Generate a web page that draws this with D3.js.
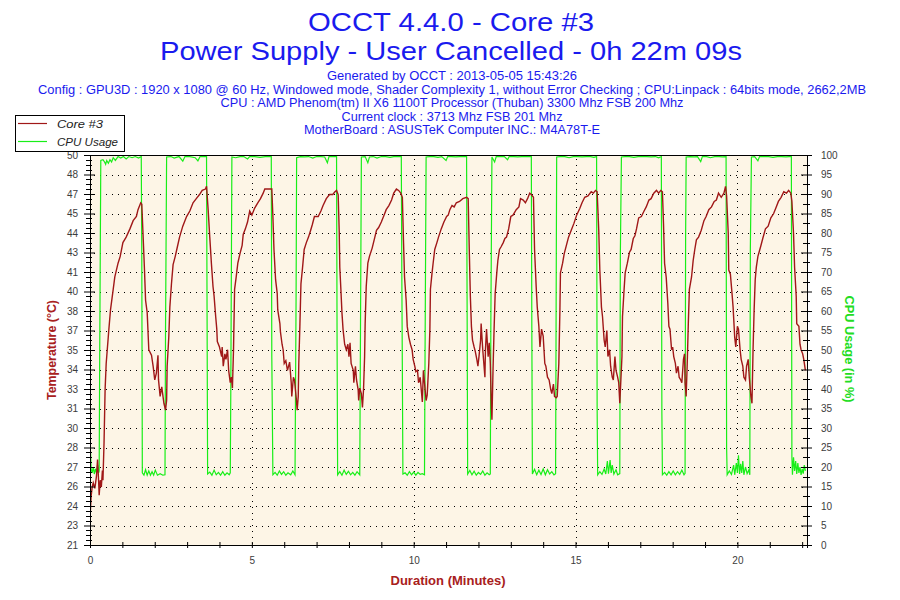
<!DOCTYPE html>
<html><head><meta charset="utf-8">
<script src="https://cdn.jsdelivr.net/npm/d3@7/dist/d3.min.js"></script>
<style>body{margin:0;background:#fff}svg{display:block}</style>
</head><body>
<svg id="c" width="900" height="600"></svg>
<script>
// ---------- text ----------
const titleLines = ["OCCT 4.4.0 - Core #3", "Power Supply - User Cancelled - 0h 22m 09s"];
const infoLines = [
  "Generated by OCCT : 2013-05-05 15:43:26",
  "Config : GPU3D : 1920 x 1080 @ 60 Hz, Windowed mode, Shader Complexity 1, without Error Checking ; CPU:Linpack : 64bits mode, 2662,2MB",
  "CPU : AMD Phenom(tm) II X6 1100T Processor (Thuban) 3300 Mhz FSB 200 Mhz",
  "Current clock : 3713 Mhz FSB 201 Mhz",
  "MotherBoard : ASUSTeK Computer INC.: M4A78T-E"
];
const legendLabels = ["Core #3", "CPU Usage"];
const axisTitles = { left: "Temperature (°C)", right: "CPU Usage (in %)", bottom: "Duration (Minutes)" };

// ---------- axes ----------
const durationSeconds = 1329;               // 22m 09s
const timeTickLabels = [0, 5, 10, 15, 20];  // minutes
const timeMinorTicks = [0,1,2,3,4,5,6,7,8,9,10,11,12,13,14,15,16,17,18,19,20,21,22];
const tempDomain = [21.28, 49.68];
const tempTickLabels = [21,23,24,26,27,28,30,31,33,34,35,37,38,40,41,43,44,45,47,48,50];
const cpuTicks = [0,5,10,15,20,25,30,35,40,45,50,55,60,65,70,75,80,85,90,95,100];

// ---------- series: [seconds, value] ----------
const coreTemp = [
[0,23.2],[2,24.8],[4,25.5],[6,25.8],[9,25.4],[12,26.3],[14,27.5],[16,25.9],[17,24.9],[19,26.0],[21,25.5],[23,26.7],[24,26.0],[26,28.7],[28,32.6],[30,34.5],[35,37.0],[38,38.4],[43,39.9],[46,40.8],[52,41.8],[56,42.3],[61,43.3],[67,43.7],[74,44.3],[80,44.9],[86,45.2],[89,45.7],[94,46.2],[96,46.1],[98,44.2],[101,41.3],[103,39.1],[106,38.2],[109,35.5],[114,35.1],[117,34.3],[120,33.3],[123,33.8],[126,35.1],[127,33.3],[130,32.1],[133,32.8],[137,31.6],[140,31.1],[142,31.8],[143,34.3],[146,36.4],[148,38.6],[151,40.3],[154,41.7],[158,42.3],[162,43.0],[166,43.7],[172,44.5],[179,45.2],[185,45.6],[191,46.2],[197,46.5],[203,46.8],[208,47.1],[214,47.2],[216,47.4],[219,45.7],[222,43.7],[225,41.8],[228,40.1],[230,39.4],[233,37.9],[235,37.0],[236,36.1],[240,35.7],[244,35.0],[245,35.7],[247,34.3],[250,35.2],[252,34.8],[255,35.5],[257,34.0],[260,33.1],[262,33.5],[264,32.7],[266,35.5],[268,39.9],[271,40.8],[274,41.8],[278,42.5],[282,43.1],[284,43.9],[288,44.3],[292,44.8],[296,45.6],[300,45.3],[305,45.8],[311,46.2],[316,46.5],[321,46.9],[324,47.2],[337,47.2],
[339,45.2],[341,42.8],[344,40.6],[347,39.6],[348,38.4],[352,37.4],[353,36.8],[356,35.9],[358,35.5],[360,34.5],[363,34.7],[366,34.0],[370,34.6],[373,33.1],[374,32.1],[377,33.5],[379,33.3],[382,32.1],[384,31.1],[386,32.1],[387,34.5],[389,37.2],[391,40.3],[394,41.5],[397,42.8],[401,43.3],[405,43.7],[409,44.2],[412,44.6],[416,45.2],[423,45.2],[428,45.6],[432,46.0],[438,46.5],[444,46.8],[450,46.8],[454,47.0],[457,47.1],[460,46.8],[462,44.0],[463,41.5],[465,39.9],[467,38.2],[469,37.0],[472,35.9],[475,35.5],[478,35.9],[480,35.0],[482,36.0],[484,34.5],[488,34.0],[489,33.1],[492,34.3],[494,33.3],[497,32.6],[498,31.8],[500,32.7],[503,32.3],[505,31.3],[507,32.6],[509,35.0],[510,37.4],[512,40.1],[515,41.8],[518,42.3],[523,42.9],[528,43.7],[531,44.2],[535,44.4],[540,44.8],[545,45.3],[549,45.7],[554,46.0],[559,46.4],[563,46.9],[568,47.2],[572,47.1],[576,46.9],[579,46.6],
[581,43.5],[583,40.8],[586,39.1],[588,37.2],[591,36.4],[594,35.9],[597,35.5],[599,34.8],[602,34.3],[604,33.9],[607,34.0],[609,33.1],[612,33.5],[614,32.6],[616,31.7],[618,34.0],[620,33.1],[623,31.8],[625,32.2],[628,34.5],[630,37.0],[631,39.9],[634,41.1],[636,41.8],[639,42.8],[643,43.3],[646,43.7],[651,44.3],[656,44.8],[661,45.2],[664,45.3],[667,45.7],[671,46.0],[675,45.9],[679,46.2],[685,46.3],[691,46.5],[698,46.6],[701,46.5],[703,42.8],[705,39.4],[707,37.2],[709,36.2],[712,35.7],[714,35.4],[717,34.8],[719,34.3],[721,35.0],[724,36.2],[725,37.4],[728,35.5],[730,34.5],[732,33.5],[733,35.5],[735,37.0],[738,35.0],[740,36.0],[742,34.5],[744,31.3],[745,30.4],[747,34.0],[749,37.0],[751,39.6],[754,41.1],[756,42.0],[759,42.8],[762,43.0],[766,43.3],[769,43.6],[772,43.7],[776,44.3],[780,45.2],[784,45.3],[790,45.7],[795,45.9],[798,46.5],[803,46.4],[807,46.2],[811,46.5],[815,46.9],[818,46.8],[822,46.6],
[824,42.8],[827,40.1],[829,38.6],[832,37.2],[834,35.7],[837,37.0],[840,36.5],[843,34.5],[845,34.3],[848,33.5],[851,33.3],[854,32.6],[856,32.3],[859,33.0],[861,32.1],[864,32.0],[866,32.1],[869,34.5],[871,38.4],[872,41.1],[876,41.8],[879,42.5],[883,43.1],[887,43.7],[892,44.2],[897,44.7],[902,45.3],[908,45.8],[912,46.2],[917,46.6],[923,46.7],[929,47.0],[933,46.9],[937,47.1],[940,47.0],[943,44.2],[945,41.3],[948,38.6],[950,37.9],[953,36.2],[955,35.7],[958,36.9],[960,35.0],[963,35.5],[965,34.3],[968,33.5],[970,33.3],[973,35.0],[975,34.0],[978,33.5],[980,33.1],[982,31.6],[984,33.3],[986,35.0],[987,37.9],[990,39.9],[992,41.1],[996,41.8],[1000,42.6],[1003,42.8],[1007,43.6],[1010,43.8],[1013,44.3],[1017,45.1],[1022,45.2],[1027,45.6],[1031,45.9],[1036,46.4],[1040,46.5],[1045,46.9],[1050,47.1],[1054,46.9],[1058,47.1],[1061,47.0],
[1063,44.7],[1065,41.8],[1068,40.8],[1071,38.9],[1073,37.2],[1075,37.0],[1078,35.5],[1080,35.7],[1082,35.0],[1085,34.5],[1087,33.8],[1090,34.3],[1092,33.5],[1095,33.3],[1097,33.1],[1100,34.8],[1102,35.2],[1103,33.1],[1105,32.1],[1107,34.5],[1109,37.4],[1111,39.9],[1115,40.8],[1118,42.0],[1121,42.8],[1124,43.5],[1128,43.7],[1133,44.2],[1138,44.9],[1142,45.2],[1147,45.7],[1152,45.9],[1157,46.3],[1161,46.4],[1165,46.9],[1170,46.6],[1175,46.9],[1178,47.4],[1180,46.7],[1183,44.0],[1184,41.3],[1187,41.0],[1190,39.6],[1192,38.6],[1195,36.4],[1197,35.7],[1200,37.2],[1202,37.0],[1205,35.5],[1207,34.8],[1210,34.3],[1212,33.5],[1215,33.3],[1217,34.3],[1220,34.8],[1222,33.5],[1225,32.1],[1227,31.6],[1229,35.5],[1231,38.4],[1233,40.6],[1235,41.5],[1238,42.3],[1243,43.0],[1247,43.6],[1252,44.3],[1257,44.5],[1262,45.1],[1267,45.4],[1272,45.9],[1276,46.3],[1281,46.6],[1286,47.0],[1291,46.9],[1295,47.1],[1299,46.9],[1301,46.3],[1304,44.0],[1306,41.5],[1309,39.4],[1310,37.4],[1314,37.2],[1316,35.9],[1318,35.5],[1321,35.2],[1323,34.8],[1326,34.0]
];

const cpuUsage = [
[0,19],[1,24],[2,19.5],[4,18.5],[6,20],[8,18.2],[10,19.5],[12,18.5],[14,20.5],[16,18.5],[17,19],
[18,49],
[20,98.6],[24,98.8],[27,98.2],[29,97.6],[31,98.6],[34,97.9],[37,98.8],[40,98.2],[43,99.3],[47,98.6],[52,99.6],[57,99.2],[62,99.6],[67,99.0],[72,99.6],[78,99.3],[84,99.6],[90,99.2],[95,99.6],
[96,74],
[97,18.5],[100,17.9],[103,19.3],[106,17.9],[109,19.0],[112,17.9],[115,18.8],[118,17.9],[121,19.2],[125,17.9],[130,18.3],[135,17.9],[139,18.0],
[140,55],
[142,99.5],[150,99.6],[156,99.2],[165,99.6],[172,98.4],[176,99.6],[185,99.6],[195,99.3],[200,98.5],[204,99.6],[210,99.6],[216,99.6],
[217,59],
[218,18.2],[222,18.7],[226,17.9],[230,19.2],[234,18],[238,18.6],[242,17.9],[246,18.8],[250,17.9],[254,18.5],[258,18],[260,18.5],
[261,40],
[263,99.5],[270,99.3],[278,99.6],[285,99.6],[292,99.0],[296,99.6],[305,99.6],[315,99.4],[325,99.6],[336,99.6],
[337,48],
[339,18],[343,18.6],[347,17.9],[351,19.0],[355,18.1],[359,18.8],[363,17.9],[367,18.5],[372,18.0],[376,19.0],[380,18],
[382,64],
[383,99.3],[390,99.6],[398,99.5],[405,99.6],[413,99.2],[420,99.6],[428,99.6],[435,99.5],[440,98.0],[443,99.6],[450,99.6],[457,99.6],
[458,51],
[459,18],[463,18.8],[467,17.9],[471,19.2],[475,18.1],[479,18.9],[483,18],[487,18.6],[491,17.9],[495,18.8],[500,18],
[501,45],
[503,99.5],[510,99.6],[515,98.0],[518,99.5],[525,99.6],[532,99.2],[540,99.6],[548,99.6],[556,99.4],[563,99.6],[570,99.6],[577,99.6],
[578,69],
[580,18.2],[584,18.5],[588,17.9],[592,18.8],[596,18],[600,18.7],[604,17.9],[608,18.6],[612,18.1],[616,18.3],[620,18],
[621,48],
[623,99.5],[630,99.6],[637,99.6],[645,99.4],[652,99.6],[660,98.6],[663,99.6],[670,99.6],[678,99.5],[686,99.6],[692,99.6],[698,99.6],
[699,61],
[700,18.2],[704,19.1],[708,18],[712,18.9],[716,17.9],[720,18.6],[724,18.1],[728,19.0],[732,17.9],[736,18.5],[740,18],[742,18.2],
[743,57],
[745,99.5],[750,98.2],[753,99.6],[760,99.6],[768,99.6],[774,98.8],[777,99.6],[785,99.6],[793,99.5],[800,99.6],[810,99.6],[818,99.6],
[819,54],
[820,18.2],[824,19.4],[828,18.0],[832,19.2],[836,18.1],[840,19.5],[844,18],[848,19.3],[852,18.2],[856,18.8],[860,18],[863,18.3],
[864,61.5],
[865,99.5],[872,99.6],[880,99.6],[888,99.3],[896,99.6],[904,99.6],[912,99.5],[920,99.6],[928,99.6],[934,99.4],[939,99.6],
[940,35],
[941,18],[945,18.8],[949,18.1],[953,19.5],[956,18.2],[959,21.5],[961,18.3],[964,21.8],[966,18.5],[968,20.5],[971,18.2],[975,19.3],[978,18],[982,18.3],
[983,74],
[985,99.5],[992,99.6],[1000,99.6],[1008,99.4],[1016,99.6],[1024,99.6],[1032,99.6],[1040,99.5],[1048,99.6],[1054,99.3],[1059,99.6],
[1060,33.8],
[1061,18],[1065,18.6],[1069,17.9],[1073,18.8],[1077,18.0],[1081,19.0],[1085,18],[1089,18.8],[1093,18.1],[1097,19.2],[1101,18],[1103,18.4],
[1104,79],
[1105,99.5],[1112,99.6],[1120,99.5],[1126,99.6],[1132,98.3],[1135,99.6],[1143,99.6],[1150,99.3],[1158,99.6],[1166,99.6],[1172,99.5],[1179,99.6],
[1180,25],
[1181,18],[1185,19],[1189,18.1],[1193,20.5],[1195,18],[1198,21],[1200,18.5],[1202,23],[1204,18.2],[1206,20.8],[1208,18.5],[1210,21.5],[1212,18],[1215,20],[1218,18.3],[1221,19.2],[1223,18],
[1224,76],
[1226,99.5],[1232,99.6],[1238,98.5],[1241,99.6],[1250,99.6],[1258,99.6],[1266,99.4],[1274,99.6],[1282,99.6],[1290,99.5],[1296,99.6],[1300,99.6],
[1301,22.6],
[1302,18],[1304,22.5],[1306,19],[1308,21.5],[1310,18.2],[1312,21],[1314,18.5],[1316,20],[1318,18],[1320,19.5],[1322,18.3],[1324,20.5],[1326,19]
];

// ---------- styling ----------
const C = {
  title: "#1a1aee", temp: "#a01818", cpu: "#18ee18", cpuTitle: "#22dd22", axisTitle: "#a82020",
  tick: "#3c3c3c", plotBg: "#fdf5e6"
};
const P = { left: 90, right: 807, top: 155, bottom: 545 };

const svg = d3.select("#c");
svg.append("rect").attr("width", 900).attr("height", 600).attr("fill", "#fff");

// scales
const x = d3.scaleLinear().domain([0, durationSeconds / 60]).range([P.left, P.right]);
const yT = d3.scaleLinear().domain(tempDomain).range([P.bottom, P.top]);
const yC = d3.scaleLinear().domain([0, 100]).range([P.bottom, P.top]);
const step = (tempDomain[1] - tempDomain[0]) / (tempTickLabels.length - 1);
const tempTickValues = tempTickLabels.map((_, i) => tempDomain[0] + i * step);

// titles
const fitText = (g, txt, cx, y, size, len, color, weight) =>
  g.append("text").attr("x", cx).attr("y", y).attr("text-anchor", "middle")
   .attr("font-family", "Liberation Sans, Arial, sans-serif").attr("font-size", size)
   .attr("font-weight", weight || "normal").attr("fill", color)
   .attr("textLength", len).attr("lengthAdjust", "spacingAndGlyphs").text(txt);

const titleY = [31, 60], titleLen = [286, 582];
titleLines.forEach((t, i) => fitText(svg, t, 451, titleY[i], 26, titleLen[i], C.title));
const infoY = [80, 93.5, 107, 120.5, 134], infoLen = [250, 828, 463, 221, 296];
infoLines.forEach((t, i) => fitText(svg, t, 452, infoY[i], 12.5, infoLen[i], C.title));

// plot background
svg.append("rect").attr("x", P.left).attr("y", P.top).attr("width", P.right - P.left)
   .attr("height", P.bottom - P.top).attr("fill", C.plotBg);

// grid
const grid = svg.append("g").attr("stroke", "#000").attr("stroke-width", 1)
  .attr("stroke-dasharray", "1,5").attr("shape-rendering", "crispEdges");
grid.selectAll("line.h").data(cpuTicks.slice(1, -1)).join("line")
  .attr("x1", P.left + 4).attr("x2", P.right)
  .attr("y1", d => Math.round(yC(d)) + 0.5).attr("y2", d => Math.round(yC(d)) + 0.5);
grid.selectAll("line.v").data(timeTickLabels.slice(1)).join("line")
  .attr("class", "v")
  .attr("x1", d => Math.round(x(d)) + 0.5).attr("x2", d => Math.round(x(d)) + 0.5)
  .attr("y1", P.top + 4).attr("y2", P.bottom);

// data lines
svg.append("clipPath").attr("id", "clip").append("rect")
  .attr("x", P.left).attr("y", P.top).attr("width", P.right - P.left).attr("height", P.bottom - P.top);
const plot = svg.append("g").attr("clip-path", "url(#clip)");
const lineCpu = d3.line().x(d => x(d[0] / 60)).y(d => yC(d[1]));
const lineTemp = d3.line().x(d => x(d[0] / 60)).y(d => yT(d[1]));
plot.append("path").datum(cpuUsage).attr("d", lineCpu).attr("fill", "none")
  .attr("stroke", C.cpu).attr("stroke-width", 1.2);
plot.append("path").datum(coreTemp).attr("d", lineTemp).attr("fill", "none")
  .attr("stroke", C.temp).attr("stroke-width", 1.4).attr("stroke-linejoin", "miter");

// axes
const tickFont = g => g.selectAll("text").attr("font-family", "Liberation Sans, Arial, sans-serif")
  .attr("font-size", 10).attr("fill", C.tick);

const axL = svg.append("g").attr("transform", `translate(${P.left},0)`)
  .call(d3.axisLeft(yT).tickValues(tempTickValues).tickFormat((d, i) => tempTickLabels[i])
        .tickSizeOuter(0).tickSize(6).tickPadding(6));
axL.selectAll(".tick line").attr("x1", -6).attr("x2", 5);
axL.call(tickFont);
axL.select(".domain").attr("stroke", "#000");
// left minor ticks
const leftMinor = [];
tempTickValues.slice(0, -1).forEach(v => [0.25, 0.5, 0.75].forEach(f => leftMinor.push(v + f * step)));
svg.append("g").selectAll("line").data(leftMinor).join("line")
  .attr("x1", P.left - 4).attr("x2", P.left + 2)
  .attr("y1", d => Math.round(yT(d)) + 0.5).attr("y2", d => Math.round(yT(d)) + 0.5)
  .attr("stroke", "#000");

const axR = svg.append("g").attr("transform", `translate(${P.right},0)`)
  .call(d3.axisRight(yC).tickValues(cpuTicks).tickSizeOuter(0).tickSize(5).tickPadding(9));
axR.selectAll(".tick line").attr("x1", -6).attr("x2", 5);
axR.call(tickFont);
svg.append("g").selectAll("line").data(cpuTicks.slice(0, -1).map(v => v + 2.5)).join("line")
  .attr("x1", P.right - 4).attr("x2", P.right + 3)
  .attr("y1", d => Math.round(yC(d)) + 0.5).attr("y2", d => Math.round(yC(d)) + 0.5)
  .attr("stroke", "#000");

const axB = svg.append("g").attr("transform", `translate(0,${P.bottom})`)
  .call(d3.axisBottom(x).tickValues(timeMinorTicks)
        .tickFormat(d => timeTickLabels.includes(d) ? d : "").tickSizeOuter(0).tickSize(3).tickPadding(9));
axB.selectAll(".tick line").attr("y1", -3).attr("y2", 3);
axB.call(tickFont);

// top border
svg.append("line").attr("x1", P.left).attr("x2", P.right).attr("y1", P.top + 0.5).attr("y2", P.top + 0.5)
  .attr("stroke", "#000");

// axis titles
svg.append("text").attr("transform", "translate(56,350) rotate(-90)").attr("text-anchor", "middle")
  .attr("font-family", "Liberation Sans, Arial, sans-serif").attr("font-size", 12.5).attr("font-weight", "bold")
  .attr("fill", C.axisTitle).attr("textLength", 100).attr("lengthAdjust", "spacingAndGlyphs").text(axisTitles.left);
svg.append("text").attr("transform", "translate(845,349) rotate(90)").attr("text-anchor", "middle")
  .attr("font-family", "Liberation Sans, Arial, sans-serif").attr("font-size", 12.5).attr("font-weight", "bold")
  .attr("fill", C.cpuTitle).attr("textLength", 107).attr("lengthAdjust", "spacingAndGlyphs").text(axisTitles.right);
svg.append("text").attr("x", 448).attr("y", 585).attr("text-anchor", "middle")
  .attr("font-family", "Liberation Sans, Arial, sans-serif").attr("font-size", 12.5).attr("font-weight", "bold")
  .attr("fill", C.axisTitle).attr("textLength", 115).attr("lengthAdjust", "spacingAndGlyphs").text(axisTitles.bottom);

// legend
const lg = svg.append("g");
lg.append("rect").attr("x", 15.5).attr("y", 115.5).attr("width", 109).attr("height", 36)
  .attr("fill", "#fff").attr("stroke", "#000");
const legColors = [C.temp, C.cpu], legY = [123.5, 141.5], legLen = [46, 61];
legendLabels.forEach((t, i) => {
  lg.append("line").attr("x1", 18).attr("x2", 47).attr("y1", legY[i]).attr("y2", legY[i])
    .attr("stroke", legColors[i]).attr("stroke-width", 1.2);
  lg.append("text").attr("x", 57).attr("y", legY[i] + 4).attr("font-family", "Liberation Sans, Arial, sans-serif")
    .attr("font-size", 11).attr("font-style", "italic").attr("fill", "#222")
    .attr("textLength", legLen[i]).attr("lengthAdjust", "spacingAndGlyphs").text(t);
});
</script>
</body></html>
